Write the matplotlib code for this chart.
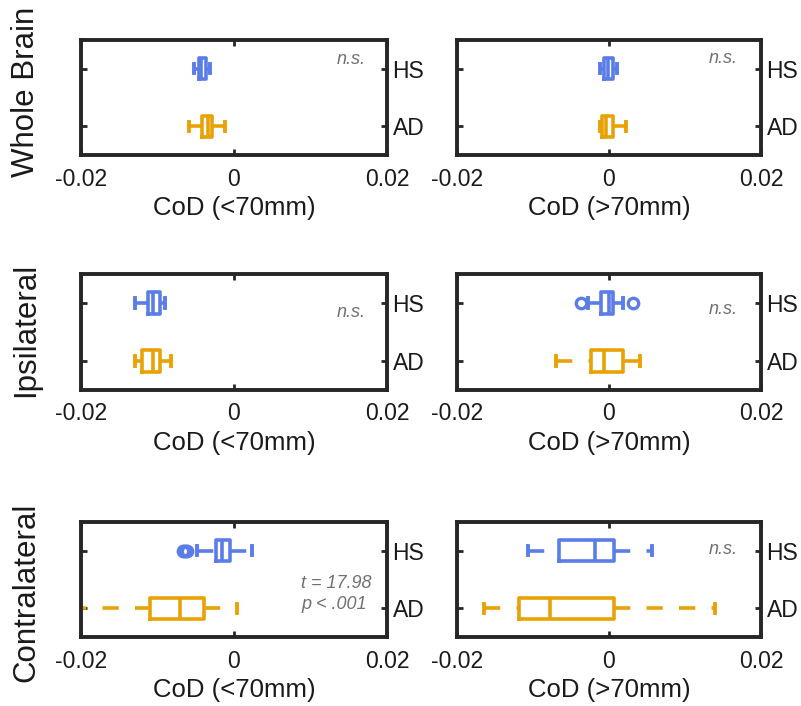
import matplotlib.pyplot as plt

plt.rcParams['font.family'] = ['Liberation Sans', 'DejaVu Sans']
plt.rcParams['axes.unicode_minus'] = False

regions = ['Whole Brain', 'Ipsilateral', 'Contralateral']
xlabels = ['CoD (<70mm)', 'CoD (>70mm)']
groups = ['AD', 'HS']
xticks = [-0.02, 0, 0.02]
xticklabels = ['-0.02', '0', '0.02']

# [lower whisker, q1, median, q3, upper whisker], panels row by row (left, right)
hs_stats = [
    [-0.0052, -0.0046, -0.0043, -0.0036, -0.0031],
    [-0.0012, -0.0007, -0.0001, 0.0005, 0.0011],
    [-0.0130, -0.0113, -0.0106, -0.0097, -0.0090],
    [-0.0028, -0.0011, 0.0000, 0.0005, 0.0018],
    [-0.0049, -0.0024, -0.0016, -0.0005, 0.0024],
    [-0.0107, -0.0066, -0.0018, 0.0006, 0.0057],
]
ad_stats = [
    [-0.0059, -0.0042, -0.0034, -0.0029, -0.0012],
    [-0.0012, -0.0009, -0.0004, 0.0005, 0.0022],
    [-0.0130, -0.0120, -0.0106, -0.0097, -0.0082],
    [-0.0070, -0.0024, -0.0007, 0.0018, 0.0041],
    [-0.0215, -0.0110, -0.0071, -0.0039, 0.0004],
    [-0.0164, -0.0119, -0.0078, 0.0006, 0.0139],
]
hs_fliers = [[], [], [], [-0.0037, 0.0032], [-0.0067, -0.0065, -0.0063, -0.0061], []]
ad_fliers = [[], [], [], [], [], []]
notes = ['n.s.', 'n.s.', 'n.s.', 'n.s.', 't = 17.98\np < .001', 'n.s.']

blue = '#5a7de8'
orange = '#e8a205'

# layout (pixels of the 801x706 figure)
lefts = [81, 457]
widths = [306, 304]
tops = [40, 274, 522]
heights = [115, 116, 115]
label_y = [92, 330, 592]
note_pos = [(0.93, 0.83, 'right'), (0.925, 0.84, 'right'),
            (0.93, 0.67, 'right'), (0.925, 0.69, 'right'),
            (0.72, 0.37, 'left'), (0.925, 0.76, 'right')]

fig = plt.figure(figsize=(8.01, 7.06), dpi=100)

for i in range(6):
    r, c = divmod(i, 2)
    ax = fig.add_axes([lefts[c] / 801, 1 - (tops[r] + heights[r]) / 706,
                       widths[c] / 801, heights[r] / 706])
    for y, st, fl, col in [(2, hs_stats[i], hs_fliers[i], blue),
                           (1, ad_stats[i], ad_fliers[i], orange)]:
        d = dict(whislo=st[0], q1=st[1], med=st[2], q3=st[3], whishi=st[4], fliers=fl)
        bp = ax.bxp([d], positions=[y], orientation='horizontal', widths=0.37,
                    capwidths=0.16,
                    boxprops=dict(color=col, lw=2.6, solid_joinstyle='round'),
                    whiskerprops=dict(color=col, lw=2.6, linestyle=(0, (4.5, 4.5))),
                    capprops=dict(color=col, lw=2.8),
                    medianprops=dict(color=col, lw=2.6),
                    flierprops=dict(marker='o', mfc='none', mec=col, mew=2.4, ms=7.5))
        # dashes start from the whisker end, like the original
        w = bp['whiskers'][0]
        w.set_xdata(w.get_xdata()[::-1])

    ax.set_xlim(-0.02, 0.02)
    ax.set_ylim(0.5, 2.5)
    ax.set_xticks(xticks, xticklabels)
    ax.set_yticks([1, 2], groups)
    ax.tick_params(direction='in', length=4, width=2, top=True, right=True,
                   left=True, labelleft=False, labelright=True, labelsize=16.5,
                   colors='#262626', labelcolor='#1a1a1a')
    ax.tick_params(axis='x', pad=9)
    ax.tick_params(axis='y', pad=4)
    for s in ax.spines.values():
        s.set_linewidth(2.8)
        s.set_color('#262626')
    ax.set_xlabel(xlabels[c], fontsize=18.5, labelpad=4, color='#1a1a1a')

    nx, ny, ha = note_pos[i]
    ax.text(nx, ny, notes[i], transform=ax.transAxes, ha=ha, va='center',
            style='italic', color='#707070', fontsize=13, linespacing=1.3)

for r in range(3):
    fig.text(26 / 801, 1 - label_y[r] / 706, regions[r], rotation=90,
             ha='center', va='center', fontsize=22.5, color='#1a1a1a')

fig.savefig('out.png', dpi=100)
